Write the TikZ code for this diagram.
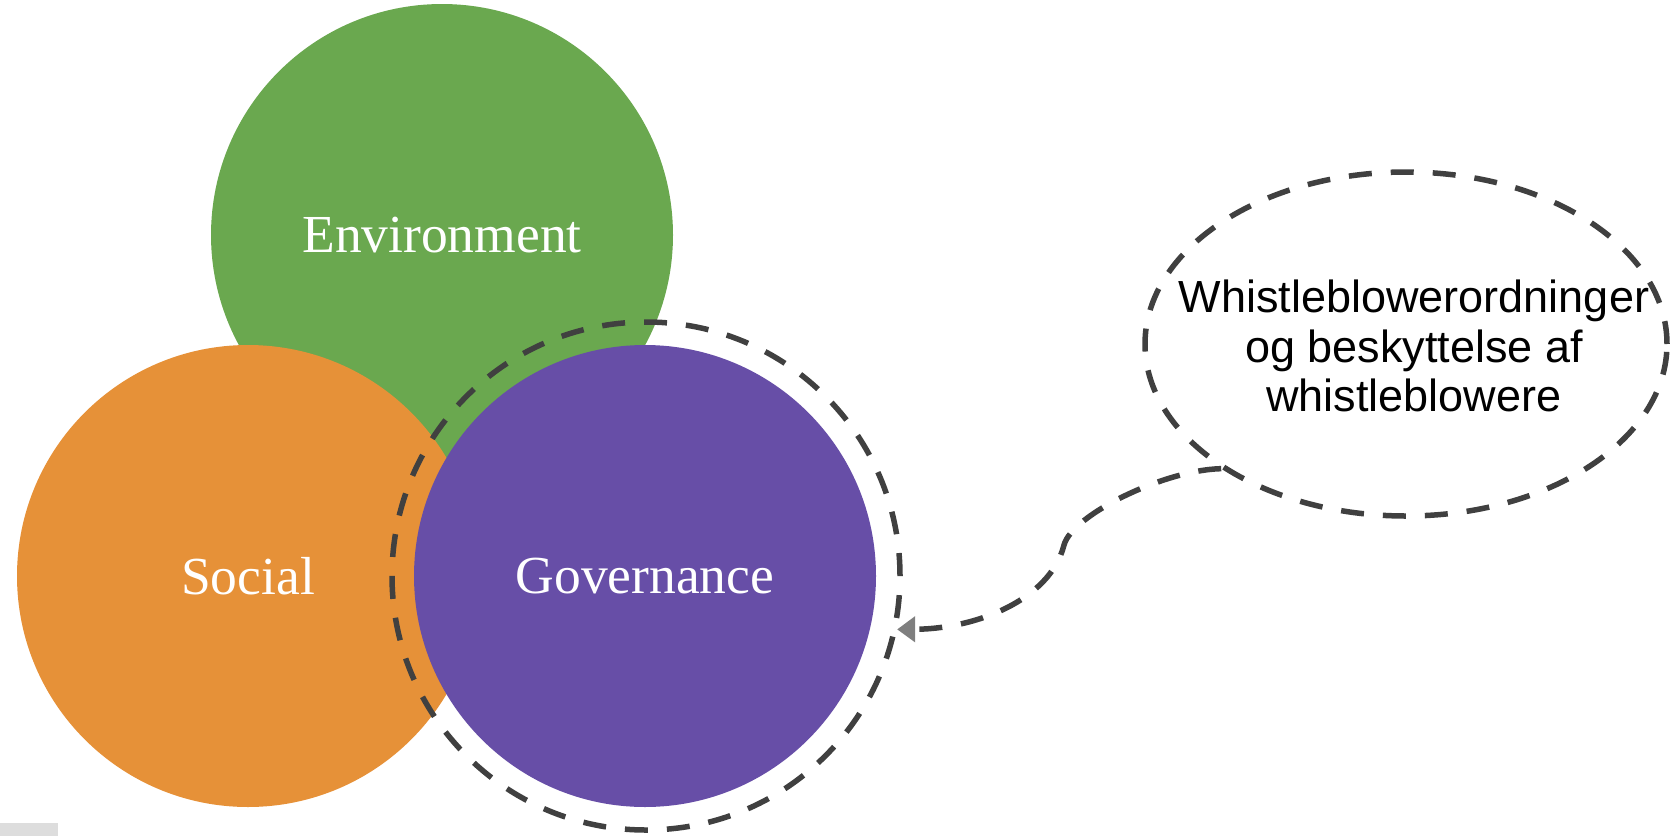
\documentclass[tikz,border=0pt]{standalone}
\usepackage{fontspec}
\setmainfont{Liberation Serif}
\newfontfamily\notefont{Liberation Sans}
\usetikzlibrary{shapes.geometric,arrows.meta}
\definecolor{envgreen}{HTML}{6AA84F}
\definecolor{socorange}{HTML}{E69138}
\definecolor{govpurple}{HTML}{674EA7}
\definecolor{dashgray}{HTML}{404040}
\definecolor{tipgray}{HTML}{7F7F7F}
\definecolor{boxgray}{HTML}{DDDDDD}
\begin{document}
\begin{tikzpicture}[x=1pt,y=-1pt,line join=round,
    bubble/.style={circle,inner sep=0pt,minimum size=462pt,text=white,
      font=\fontsize{53.5}{60}\selectfont},
    dashline/.style={draw=dashgray,line width=5.5pt,dash pattern=on 23pt off 19pt},
    ring/.style={circle,dashline,minimum size=508pt,inner sep=0pt},
    noteoval/.style={ellipse,dashline,minimum width=522pt,minimum height=344pt,inner sep=0pt},
    notetext/.style={align=center,inner sep=0pt,
      font=\notefont\fontsize{45}{49.5}\selectfont},
    link/.style={dashline,-{Triangle[length=18pt,width=25pt,color=tipgray]}}]
  \useasboundingbox (0,0) rectangle (1671,836);
  \fill[boxgray] (0,823) rectangle (58,836);
  % the three circles
  \node[bubble,fill=envgreen] (env) at (442,235) {Environment};
  \node[bubble,fill=socorange] (soc) at (248,576) {Social};
  \node[ring] (ring) at (646,576) {};
  \node[bubble,fill=govpurple] (gov) at (645,576) {Governance};
  % the note
  \node[noteoval] (oval) at (1406,344) {};
  \node[notetext] (note) at ([xshift=8pt,yshift=-2pt]oval.center) {Whistleblowerordninger\\og beskyttelse af\\whistleblowere};
  \draw[link] (oval.214) .. controls (1164,470) and (1072,515) .. (1064,545)
    .. controls (1050,600) and (976,629) .. (ring.-12);
\end{tikzpicture}
\end{document}
